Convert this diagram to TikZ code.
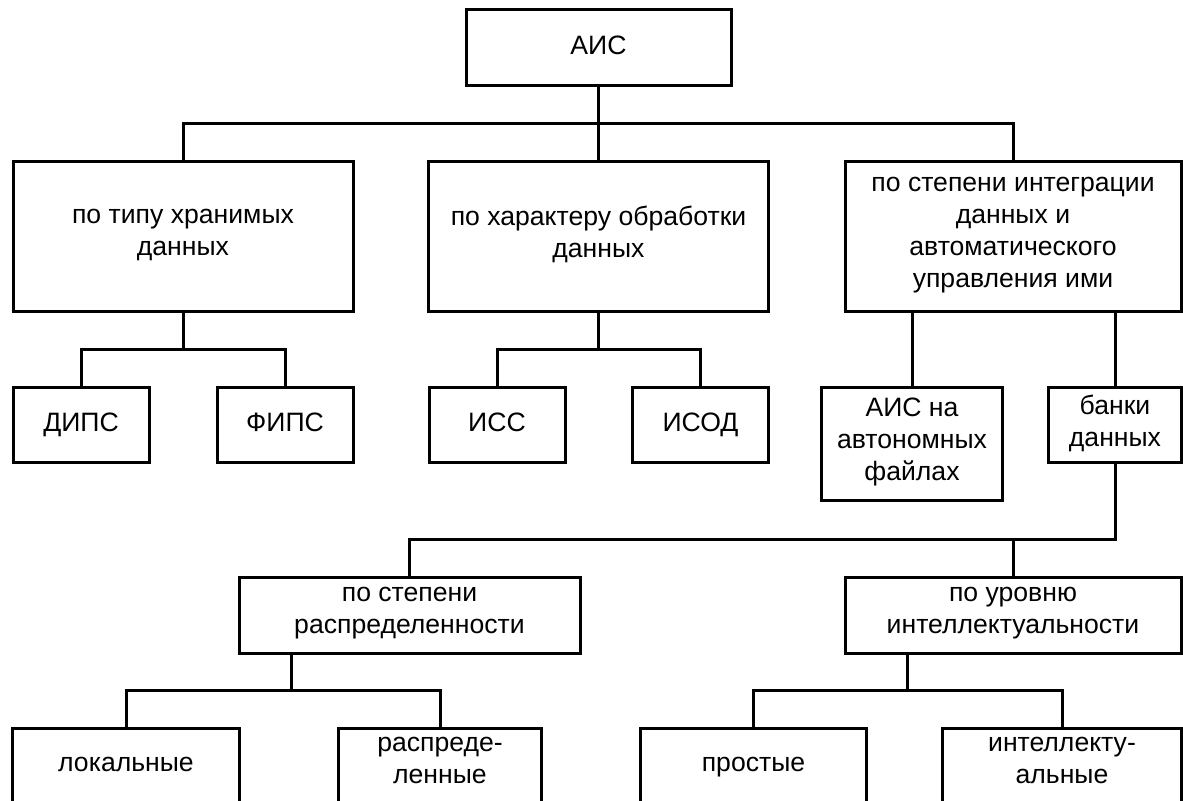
\documentclass[tikz,border=0pt]{standalone}
\usepackage{fontspec}
\setmainfont{Liberation Sans}
\usetikzlibrary{calc}
\tikzstyle{every path}+=[line width=1.5pt]
\tikzstyle{box}=[draw, rectangle, line width=1.5pt, inner sep=0pt, align=center, font=\fontsize{13.3}{16}\selectfont, execute at begin node=\strut, execute at end node=\strut]
\tikzstyle{small}=[box, minimum height=37.5pt]

\begin{document}
\begin{tikzpicture}[x=0.5pt, y=-0.5pt]
\useasboundingbox (0,0) rectangle (1183,801);

\node[box, minimum width=132.5pt, minimum height=38pt] (ais) at (598.5,48) {АИС};

\node[box, minimum width=170pt, minimum height=75pt] (tip) at (183,237) {по типу хранимых\\данных};
\node[box, minimum width=170pt, minimum height=75pt] (harakter) at (598.5,237) {по характеру обработки\\данных};
\node[box, minimum width=168pt, minimum height=75pt] (integr) at (1013,237) {по степени интеграции\\данных и\\автоматического\\управления ими};

\node[small, minimum width=68pt] (dips) at (81,425.5) {ДИПС};
\node[small, minimum width=68pt] (fips) at (285,425.5) {ФИПС};
\node[small, minimum width=68pt] (iss) at (497,425.5) {ИСС};
\node[small, minimum width=68pt] (isod) at (700.5,425.5) {ИСОД};
\node[box, minimum width=90.75pt, minimum height=56.5pt] (aisf) at (912,444.5) {АИС на\\автономных\\файлах};
\node[small, minimum width=66.5pt] (banki) at (1115,425.5) {банки\\данных};

\node[small, minimum width=170.5pt] (raspr) at (409.5,615.5) {по степени\\распределенности};
\node[small, minimum width=168pt] (urov) at (1013,615.5) {по уровню\\интеллектуальности};

\node[small, minimum width=113.2pt] (lok) at (126,765.5) {локальные};
\node[small, minimum width=101.5pt] (raspr2) at (440,765.5) {распреде-\\ленные};
\node[small, minimum width=113pt] (prost) at (753.5,765.5) {простые};
\node[small, minimum width=119.25pt] (intel) at (1062,765.5) {интеллекту-\\альные};

% bus junctions
\coordinate (b0) at (598.5,124);
\coordinate (b1) at (183,350);
\coordinate (b2) at (598.5,350);
\coordinate (b3) at (1115,540);
\coordinate (b4) at (291,690.5);
\coordinate (b5) at (907,690.5);

\draw (ais) -- (harakter);
\draw (tip.north) |- (b0) -| (integr.north);

\draw (tip) -- (b1);
\draw (dips.north) |- (b1) -| (fips.north);
\draw (harakter) -- (b2);
\draw (iss.north) |- (b2) -| (isod.north);

\draw (integr.south -| aisf.north) -- (aisf.north);
\draw (integr.south -| banki.north) -- (banki.north);

\draw (banki) -- (b3) -| (raspr.north);
\draw (urov.north) -- (urov.north |- b3);

\draw (raspr.south -| b4) -- (b4);
\draw (lok.north) |- (b4) -| (raspr2.north);
\draw (urov.south -| b5) -- (b5);
\draw (prost.north) |- (b5) -| (intel.north);
\end{tikzpicture}
\end{document}
